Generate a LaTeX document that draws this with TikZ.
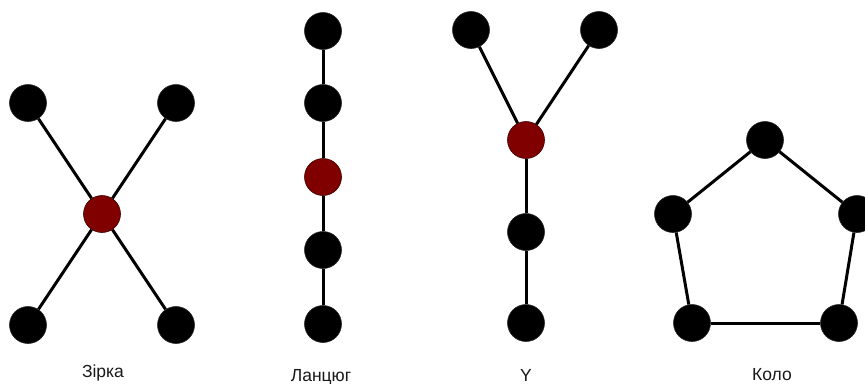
\documentclass[tikz,border=0pt]{standalone}
\usepackage{fontspec}
\setmainfont{Liberation Sans}
\begin{document}
\begin{tikzpicture}[x=1pt,y=-1pt,
  vtx/.style={circle,fill=black,draw=black!85,line width=0.6pt,minimum size=37pt,inner sep=0pt},
  hub/.style={vtx,fill={rgb,255:red,128;green,0;blue,0},draw={rgb,255:red,60;green,0;blue,0}},
  edge/.style={line width=3pt,draw=black},
  lbl/.style={anchor=base,font=\fontsize{17.5}{20}\selectfont,text=black!90}]
\useasboundingbox (0,0) rectangle (865,383);
\clip (0,0) rectangle (865,383);
% Star
\node[vtx] (s1) at (28,103) {};
\node[vtx] (s2) at (176,103) {};
\node[vtx] (s3) at (28,325) {};
\node[vtx] (s4) at (176,325) {};
\node[hub] (sc) at (102,214) {};
\draw[edge] (s1) -- (sc); \draw[edge] (s2) -- (sc);
\draw[edge] (s3) -- (sc); \draw[edge] (s4) -- (sc);
\node[lbl] (ls) at (103,377) {Зірка};
% Chain
\node[vtx] (c1) at (323,31) {};
\node[vtx] (c2) at (323,103) {};
\node[hub] (c3) at (323,177) {};
\node[vtx] (c4) at (323,250) {};
\node[vtx] (c5) at (323,324) {};
\draw[edge] (c1) -- (c2); \draw[edge] (c2) -- (c3);
\draw[edge] (c3) -- (c4); \draw[edge] (c4) -- (c5);
\node[lbl] (lc) at (321,381) {Ланцюг};
% Y
\node[vtx] (y1) at (471,30) {};
\node[vtx] (y2) at (599,30) {};
\node[hub] (yc) at (526,140) {};
\node[vtx] (y3) at (526,232) {};
\node[vtx] (y4) at (526,323) {};
\draw[edge] (y1) -- (yc); \draw[edge] (y2) -- (yc);
\draw[edge] (yc) -- (y3); \draw[edge] (y3) -- (y4);
\node[lbl] (ly) at (526,381) {Y};
% Cycle
\node[vtx] (p1) at (765,140) {};
\node[vtx] (p2) at (673,214) {};
\node[vtx] (p3) at (857,214) {};
\node[vtx] (p4) at (692,323) {};
\node[vtx] (p5) at (839,323) {};
\draw[edge] (p1) -- (p2); \draw[edge] (p1) -- (p3);
\draw[edge] (p2) -- (p4); \draw[edge] (p3) -- (p5);
\draw[edge] (p4) -- (p5);
\node[lbl] (lk) at (772,380) {Коло};
\end{tikzpicture}
\end{document}
